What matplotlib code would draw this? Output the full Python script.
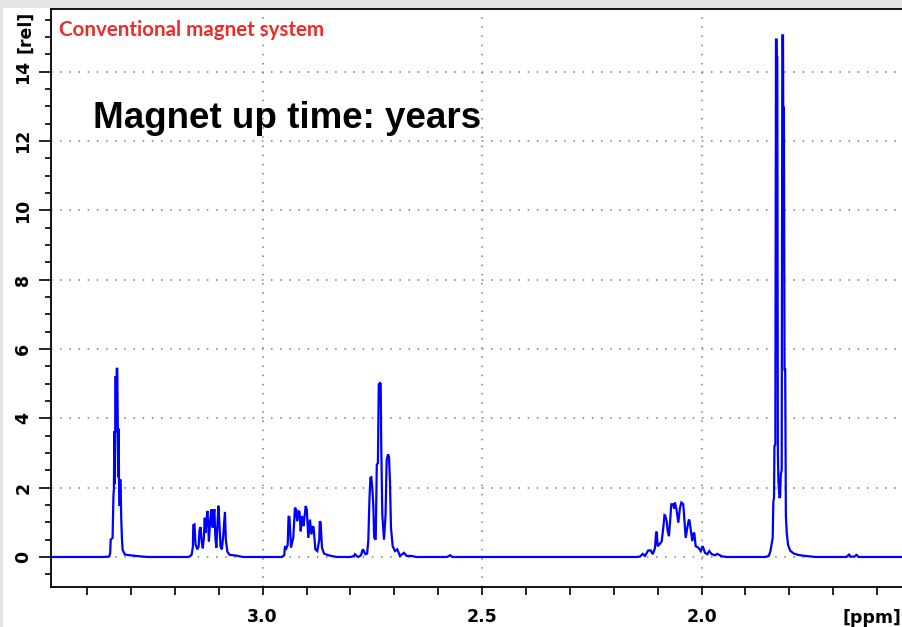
import matplotlib
matplotlib.use("Agg")
import matplotlib.pyplot as plt
from matplotlib.ticker import MultipleLocator, FixedLocator
from matplotlib.patches import Rectangle

# ---------------- data ----------------
# chemical shift [ppm] / relative intensity, vertices of the spectrum trace
base_left_ppm = [3.4823]
base_left_int = [0.0]

m1_ppm = [3.365, 3.350, 3.3475, 3.3463, 3.3420, 3.3400, 3.3390, 3.3380, 3.3368, 3.3358,
          3.3349, 3.3340, 3.3325, 3.3313, 3.3300, 3.3290, 3.3280, 3.3274, 3.3258, 3.3245,
          3.3235, 3.3222, 3.3206, 3.3190, 3.3140, 3.3030, 3.2880, 3.2730, 3.2600]
m1_int = [0.0, 0.01, 0.10, 0.50, 0.55, 1.80, 1.95, 3.63, 2.10, 3.70,
          5.22, 3.60, 5.43, 5.43, 3.78, 2.30, 3.70, 2.14, 1.47, 2.24,
          1.90, 1.08, 0.50, 0.20, 0.07, 0.05, 0.03, 0.01, 0.0]

m2_ppm = [3.1700, 3.1656, 3.1618, 3.1590, 3.1581, 3.1554, 3.1530, 3.1490, 3.1460, 3.1440,
          3.1415, 3.1390, 3.1365, 3.1340, 3.1320, 3.1300, 3.1285, 3.1260, 3.1240, 3.1225,
          3.1205, 3.1180, 3.1160, 3.1140, 3.1120, 3.1100, 3.1080, 3.1055, 3.1035, 3.1010,
          3.0985, 3.0960, 3.0930, 3.0900, 3.0860, 3.0840, 3.0805, 3.0750, 3.0600, 3.0520,
          3.0450]
m2_int = [0.0, 0.02, 0.07, 0.30, 0.92, 0.94, 0.36, 0.22, 0.30, 0.78,
          0.86, 0.45, 0.25, 0.55, 1.13, 0.70, 1.00, 1.33, 0.90, 0.45,
          0.90, 1.25, 1.38, 0.85, 1.20, 1.38, 0.60, 0.27, 0.80, 1.48,
          0.95, 0.30, 0.22, 0.60, 1.30, 0.50, 0.15, 0.06, 0.04, 0.02,
          0.0]

m3_ppm = [2.9560, 2.9510, 2.9492, 2.9460, 2.9430, 2.9410, 2.9390, 2.9355, 2.9303, 2.9265,
          2.9248, 2.9212, 2.9185, 2.9160, 2.9134, 2.9110, 2.9098, 2.9070, 2.9020, 2.8995,
          2.8960, 2.8922, 2.8890, 2.8855, 2.8840, 2.8800, 2.8756, 2.8710, 2.8700, 2.8680,
          2.8649, 2.8603, 2.8505, 2.8398, 2.8300]
m3_int = [0.0, 0.05, 0.31, 0.25, 0.35, 1.18, 1.15, 0.27, 0.56, 1.42,
          1.40, 1.03, 1.32, 1.30, 0.74, 1.18, 1.15, 0.89, 1.47, 1.37,
          0.55, 1.08, 0.65, 0.89, 0.85, 0.22, 0.17, 0.50, 1.03, 1.00,
          0.27, 0.10, 0.05, 0.02, 0.0]

m4_ppm = [2.8000, 2.7920, 2.7897, 2.7860, 2.7822, 2.7760, 2.7720, 2.7700, 2.7660, 2.7620,
          2.7594, 2.7565, 2.7545, 2.7525, 2.7503, 2.7480, 2.7460, 2.7425, 2.7400, 2.7375,
          2.7355, 2.7330, 2.7311, 2.7300, 2.7285, 2.7275, 2.7236, 2.7200, 2.7175, 2.7145,
          2.7123, 2.7100, 2.7077, 2.7038, 2.6986, 2.6933, 2.6872, 2.6781, 2.6719, 2.6605,
          2.6500, 2.5800, 2.5730, 2.5680]
m4_int = [0.0, 0.03, 0.08, 0.03, 0.0, 0.05, 0.22, 0.18, 0.08, 0.10,
          0.46, 1.76, 2.29, 2.30, 2.00, 1.52, 0.56, 0.50, 2.67, 2.70,
          4.98, 5.02, 5.00, 3.30, 2.00, 1.23, 0.50, 1.23, 2.81, 2.96,
          2.90, 2.19, 0.84, 0.31, 0.17, 0.22, 0.03, 0.12, 0.03, 0.03,
          0.0, 0.0, 0.05, 0.0]

m5_ppm = [2.1500, 2.1405, 2.1342, 2.1290, 2.1215, 2.1160, 2.1114, 2.1062, 2.1035, 2.1020,
          2.1000, 2.0964, 2.0909, 2.0873, 2.0845, 2.0830, 2.0795, 2.0772, 2.0743, 2.0720,
          2.0690, 2.0645, 2.0625, 2.0606, 2.0567, 2.0531, 2.0492, 2.0460, 2.0417, 2.0394,
          2.0362, 2.0326, 2.0290, 2.0275, 2.0248, 2.0212, 2.0180, 2.0165, 2.0134, 2.0075,
          2.0020, 1.9980, 1.9965, 1.9922, 1.9870, 1.9824, 1.9770, 1.9695, 1.9642, 1.9542,
          1.9428]
m5_int = [0.0, 0.01, 0.09, 0.03, 0.19, 0.19, 0.08, 0.25, 0.73, 0.70,
          0.31, 0.36, 0.45, 0.84, 1.21, 1.20, 1.03, 0.74, 0.60, 0.98,
          1.52, 1.52, 1.40, 1.57, 1.33, 0.99, 1.42, 1.57, 1.52, 1.13,
          0.55, 0.84, 1.08, 1.05, 0.79, 0.46, 0.70, 0.68, 0.31, 0.27,
          0.17, 0.31, 0.28, 0.12, 0.08, 0.17, 0.08, 0.05, 0.09, 0.02,
          0.0]

m6_ppm = [1.8550, 1.8470, 1.8435, 1.8400, 1.8380, 1.8365, 1.8350, 1.8340, 1.8320, 1.8305,
          1.8290, 1.8285, 1.8275, 1.8262, 1.8250, 1.8225, 1.8210, 1.8195, 1.8175, 1.8160,
          1.8145, 1.8140, 1.8125, 1.8110, 1.8095, 1.8080, 1.8060, 1.8030, 1.7980, 1.7900,
          1.7800, 1.7700, 1.7550, 1.7400]
m6_int = [0.0, 0.03, 0.15, 0.40, 0.55, 1.60, 1.70, 3.20, 3.25, 14.93,
          14.93, 14.42, 14.42, 3.00, 2.20, 1.70, 1.75, 2.40, 2.50, 15.05,
          15.05, 12.96, 12.96, 5.40, 5.40, 1.20, 0.70, 0.35, 0.18, 0.10,
          0.06, 0.04, 0.02, 0.0]

m7_ppm = [1.6700, 1.6640, 1.6600, 1.6520, 1.6470, 1.6420]
m7_int = [0.0, 0.07, 0.01, 0.01, 0.06, 0.0]

base_right_ppm = [1.5411]
base_right_int = [0.0]

y_major = [0, 2, 4, 6, 8, 10, 12, 14]
x_major = [3.0, 2.5, 2.0]
x_labels = ["3.0", "2.5", "2.0"]

ppm = base_left_ppm + m1_ppm + m2_ppm + m3_ppm + m4_ppm + m5_ppm + m6_ppm + m7_ppm + base_right_ppm
inten = base_left_int + m1_int + m2_int + m3_int + m4_int + m5_int + m6_int + m7_int + base_right_int

# ---------------- figure ----------------
W, H = 903, 627
fig = plt.figure(figsize=(W / 100, H / 100), dpi=100)
fig.patch.set_facecolor("white")
fig.patches.append(Rectangle((0, 1 - 8 / H), 1, 8 / H, transform=fig.transFigure,
                             facecolor="#e4e4e4", edgecolor="none", zorder=0))
fig.patches.append(Rectangle((0, 0), 3 / W, 1 - 8 / H, transform=fig.transFigure,
                             facecolor="#e4e4e4", edgecolor="none", zorder=0))

ax = fig.add_axes([51 / W, 40 / H, (W - 51) / W + 0.01, 578 / H])
ax.plot(ppm, inten, color="#0000ff", lw=1.6, zorder=3, solid_joinstyle="miter")

ax.set_xlim(3.4823, 1.5411 - 0.01 * (3.4823 - 1.5411) / ((W - 51) / W))
ax.set_ylim(-0.866, 15.81)

ax.yaxis.set_major_locator(FixedLocator(y_major))
ax.yaxis.set_minor_locator(MultipleLocator(0.5))
ax.xaxis.set_major_locator(FixedLocator(x_major))
ax.set_xticklabels(x_labels)
ax.xaxis.set_minor_locator(MultipleLocator(0.1))

ax.grid(True, which="major", color="#7a7a7a", linestyle=(0, (1, 5)), linewidth=1.1)
ax.set_axisbelow(True)

for s in ["left", "top", "bottom"]:
    ax.spines[s].set_linewidth(1.3)
    ax.spines[s].set_color("black")
ax.spines["right"].set_visible(False)

ax.tick_params(axis="y", which="major", length=8.5, width=1.2, direction="out", pad=5,
               labelsize=12.5, labelrotation=90)
ax.tick_params(axis="y", which="minor", length=4.3, width=1.2, direction="out")
ax.tick_params(axis="x", which="both", length=6, width=1.2, direction="out", pad=9,
               labelsize=12.5)
for lab in ax.get_yticklabels():
    lab.set_fontweight("bold")
    lab.set_va("center")
for lab in ax.get_xticklabels():
    lab.set_fontweight("bold")

fig.text(25 / W, 1 - 32 / H, "[rel]", rotation=90, ha="center", va="center",
         fontsize=12.5, fontweight="bold")
fig.text(901 / W, 1 - 618 / H, "[ppm]", ha="right", va="center",
         fontsize=12.5, fontweight="bold")

fig.text(59 / W, 1 - 36 / H, "Conventional magnet system", color="#ee2a2a",
         fontsize=14.8, fontweight="bold", family="Lato", ha="left", va="baseline")
fig.text(93 / W, 1 - 128 / H, "Magnet up time: years", color="black",
         fontsize=26.5, fontweight="bold", family="Liberation Sans", ha="left", va="baseline")

fig.savefig("out.png", dpi=100)
